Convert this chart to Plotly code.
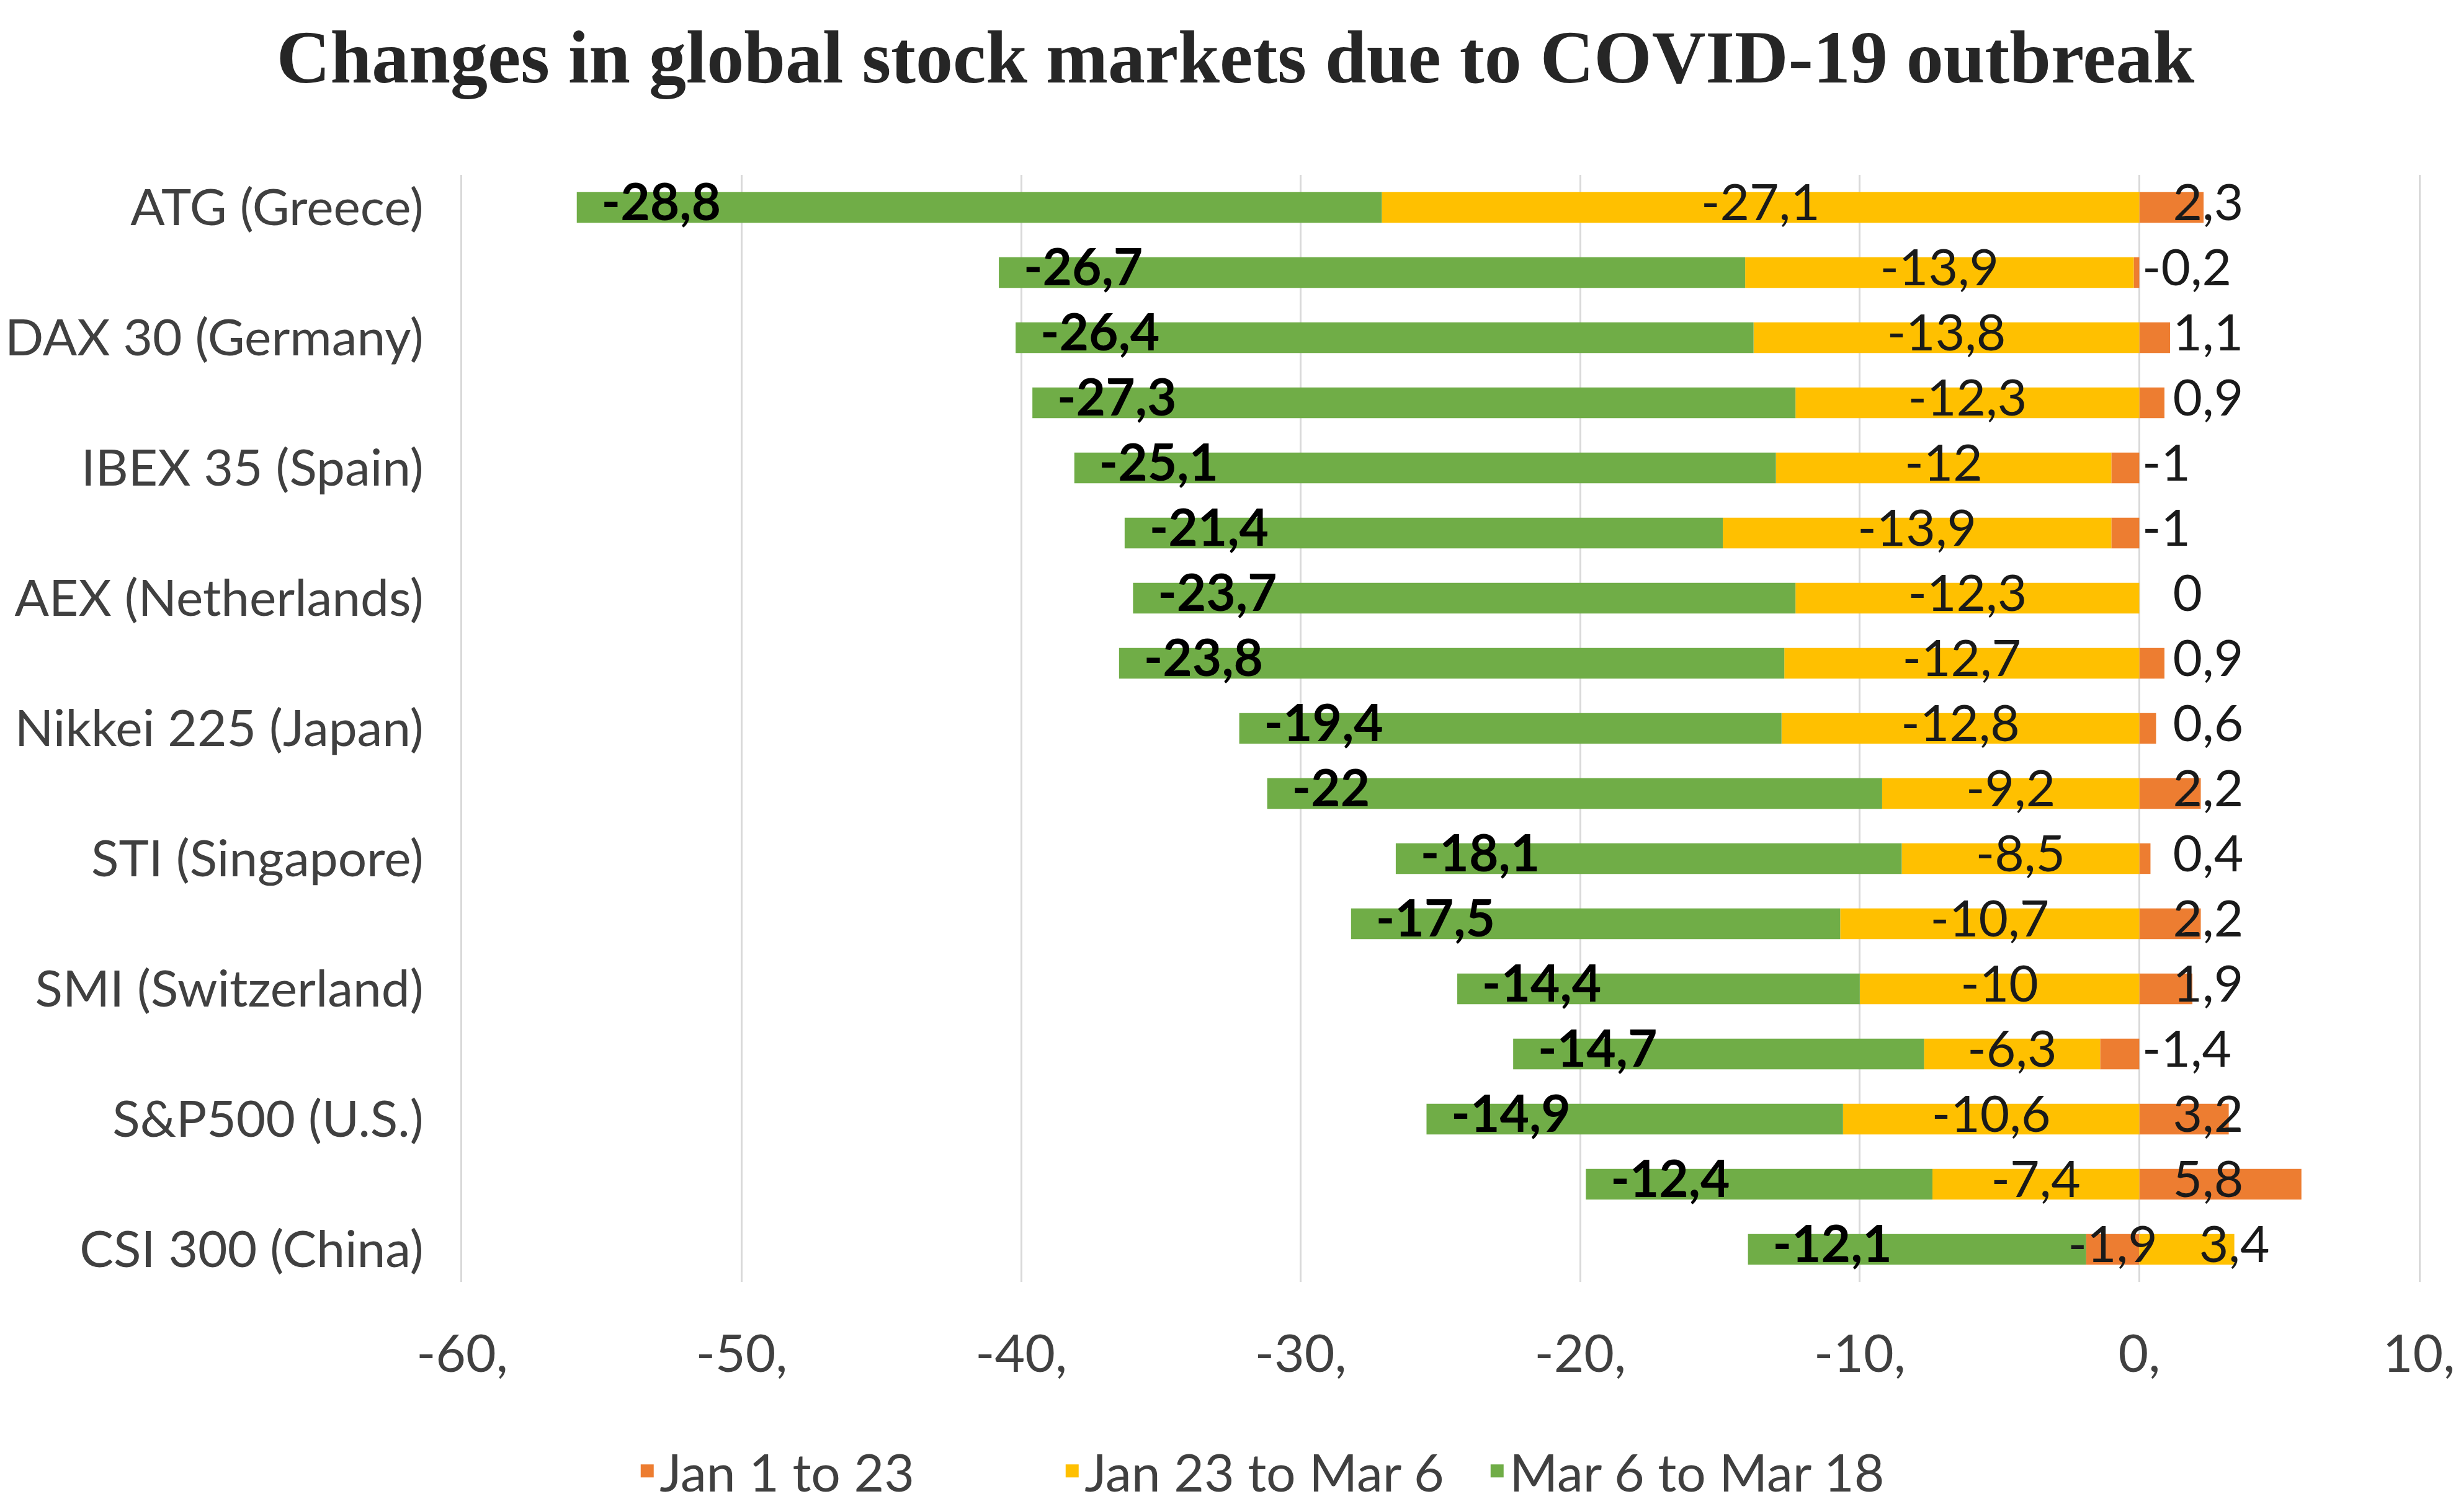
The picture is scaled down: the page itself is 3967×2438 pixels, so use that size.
import plotly.graph_objects as go

# rows top to bottom; only every other row carries a visible label in the original
indices = [
    "ATG (Greece)", "row 2", "DAX 30 (Germany)", "row 4", "IBEX 35 (Spain)",
    "row 6", "AEX (Netherlands)", "row 8", "Nikkei 225 (Japan)", "row 10",
    "STI (Singapore)", "row 12", "SMI (Switzerland)", "row 14", "S&P500 (U.S.)",
    "row 16", "CSI 300 (China)",
]
jan1_23 = [2.3, -0.2, 1.1, 0.9, -1, -1, 0, 0.9, 0.6, 2.2, 0.4, 2.2, 1.9, -1.4, 3.2, 5.8, -1.9]
jan23_mar6 = [-27.1, -13.9, -13.8, -12.3, -12, -13.9, -12.3, -12.7, -12.8, -9.2, -8.5, -10.7, -10, -6.3, -10.6, -7.4, 3.4]
mar6_mar18 = [-28.8, -26.7, -26.4, -27.3, -25.1, -21.4, -23.7, -23.8, -19.4, -22, -18.1, -17.5, -14.4, -14.7, -14.9, -12.4, -12.1]
series_names = ["Jan 1 to 23", "Jan 23 to Mar 6", "Mar 6 to Mar 18"]
shown = indices[::2]
x_ticks = [-60, -50, -40, -30, -20, -10, 0, 10]
x_tick_labels = ["-60,", "-50,", "-40,", "-30,", "-20,", "-10,", "0,", "10,"]

COLORS = ["#ED7D31", "#FFC000", "#70AD47"]
FONT = "Lato"
LABEL_SIZE = 82
GRID = "#d9d9d9"


def fmt(v):
    return f"{v:g}".replace(".", ",")


# work out where each stacked segment sits so the labels can follow it
o_x, o_pos, y_x, g_x = [], [], [], []
for o, yv, g in zip(jan1_23, jan23_mar6, mar6_mar18):
    neg = min(o, 0)
    pos = max(o, 0)
    if yv < 0:
        y_x.append(neg + yv / 2)
        neg += yv
    else:
        y_x.append(pos + yv)
        pos += yv
    g_x.append(neg + g)
    if yv > 0:
        o_x.append(o / 2)
        o_pos.append("middle center")
    elif o >= 0:
        o_x.append(1.2)
        o_pos.append("middle right")
    else:
        o_x.append(0.1)
        o_pos.append("middle right")

fig = go.Figure()

for vals, name, col in zip([jan1_23, jan23_mar6, mar6_mar18], series_names, COLORS):
    fig.add_trace(go.Bar(
        y=indices, x=vals, orientation="h", name=name, showlegend=False,
        marker=dict(color=col, line=dict(width=0)),
    ))

# data labels
fig.add_trace(go.Scatter(
    y=indices, x=y_x, mode="text", text=[fmt(v) for v in jan23_mar6],
    textposition="middle center", showlegend=False, cliponaxis=False, hoverinfo="skip",
    textfont=dict(family=FONT, size=LABEL_SIZE, color="#1a1a1a"),
))
fig.add_trace(go.Scatter(
    y=indices, x=g_x, mode="text",
    text=["\u00a0\u00a0" + fmt(v) for v in mar6_mar18],
    textposition="middle right", showlegend=False, cliponaxis=False, hoverinfo="skip",
    textfont=dict(family=FONT, size=LABEL_SIZE, color="black", weight="bold"),
))
fig.add_trace(go.Scatter(
    y=indices, x=o_x, mode="text", text=[fmt(v) for v in jan1_23],
    textposition=o_pos, showlegend=False, cliponaxis=False, hoverinfo="skip",
    textfont=dict(family=FONT, size=LABEL_SIZE, color="#1a1a1a"),
))

# legend entries with bigger square swatches than the bar icon
for name, col in zip(series_names, COLORS):
    fig.add_trace(go.Scatter(
        x=[None], y=[None], mode="markers", name=name,
        marker=dict(symbol="square", size=16, color=col, line=dict(color=col, width=5)),
    ))

fig.update_layout(
    width=3967, height=2438,
    barmode="relative", bargap=0.53,
    plot_bgcolor="white", paper_bgcolor="white",
    margin=dict(l=737, r=76, t=274, b=368),
    font=dict(family=FONT, size=82, color="#404040"),
    title=dict(
        text="<b>Changes in global stock markets due to COVID-19 outbreak</b>",
        x=0.5, xanchor="center", y=0.966, yanchor="middle",
        font=dict(family="Liberation Serif", size=120, color="#262626"),
    ),
    legend=dict(
        orientation="h", x=0.414, xanchor="center", y=-0.171, yanchor="middle",
        traceorder="normal", entrywidth=640, entrywidthmode="pixels",
        itemsizing="trace",
        font=dict(family=FONT, size=84, color="#404040"),
    ),
    xaxis=dict(
        range=[-60, 10], tickvals=x_ticks, ticktext=x_tick_labels,
        showgrid=True, gridcolor=GRID, gridwidth=3, zeroline=False,
        showline=False, ticks="", ticklabelstandoff=60, automargin=False,
        tickfont=dict(family=FONT, size=84, color="#404040"),
    ),
    yaxis=dict(
        range=[len(indices) - 0.5, -0.5], tickvals=shown, showgrid=False,
        zeroline=False, showline=True, linecolor=GRID, linewidth=3, mirror=True,
        ticks="", ticklabelstandoff=43, automargin=False,
        tickfont=dict(family=FONT, size=82, color="#404040"),
    ),
)

fig.write_html("out.html")
